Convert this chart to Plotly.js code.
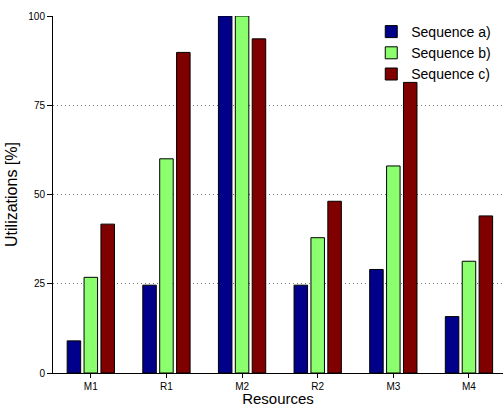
<!DOCTYPE html>
<html><head><meta charset="utf-8">
<script src="https://cdn.plot.ly/plotly-3.0.1.min.js"></script>
<style>body{margin:0;padding:0;background:#fff}#chart{width:503px;height:407px}</style>
</head><body><div id="chart"></div>
<script>
const categories = ["M1", "R1", "M2", "R2", "M3", "M4"];
const seqA = [9.0, 24.6, 100, 24.6, 29.0, 15.8];
const seqB = [26.8, 60.0, 100, 37.9, 58.0, 31.3];
const seqC = [41.7, 89.8, 93.6, 48.1, 81.4, 44.0];
const seriesNames = ["Sequence a)", "Sequence b)", "Sequence c)"];
const colors = ["#00008b", "#8cff6e", "#800000"];
const yTicks = [0, 25, 50, 75, 100];

const data = [seqA, seqB, seqC].map((v, i) => ({
  type: "bar", x: categories, y: v, name: seriesNames[i],
  marker: {color: colors[i], line: {color: "#000", width: 1}}
}));

const layout = {
  width: 503, height: 407,
  margin: {l: 53, r: 0, t: 16, b: 34},
  paper_bgcolor: "#fff", plot_bgcolor: "#fff",
  font: {family: "Liberation Sans, Arial, sans-serif", color: "#000"},
  barmode: "group", bargap: 0.33, bargroupgap: 0.2,
  xaxis: {
    range: [-0.5, 5.45], showline: true, linecolor: "#000", linewidth: 1,
    ticks: "outside", ticklen: 4, tickcolor: "#000",
    tickfont: {size: 10}, showgrid: false,
    title: {text: "Resources", font: {size: 15}, standoff: 3}
  },
  yaxis: {
    range: [0, 100], tickvals: yTicks, ticktext: yTicks.map(String),
    showline: true, linecolor: "#000", linewidth: 1,
    ticks: "outside", ticklen: 5, tickcolor: "#000",
    tickfont: {size: 10}, showgrid: true, gridcolor: "#777", griddash: "1px,3px", gridwidth: 1,
    zeroline: false,
    title: {text: "Utilizations [%]", font: {size: 16}, standoff: 6}
  },
  legend: {
    x: 0.985, y: 1.0, xanchor: "right", yanchor: "top",
    font: {size: 14}, bgcolor: "rgba(255,255,255,0)", tracegroupgap: 0
  }
};
Plotly.newPlot("chart", data, layout, {displayModeBar: false, staticPlot: true});
</script></body></html>
